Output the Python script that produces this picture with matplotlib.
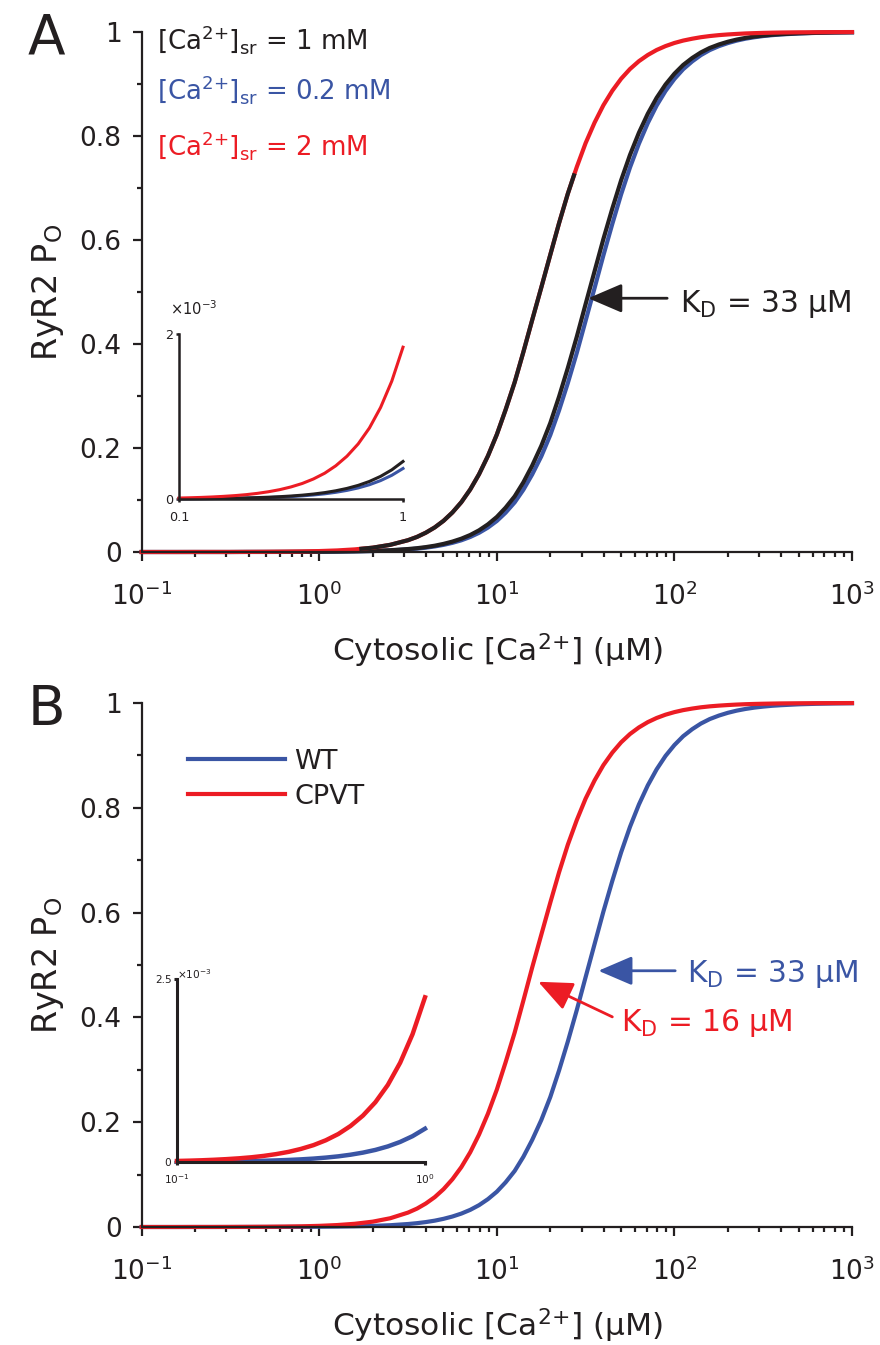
#!/usr/bin/env python
#
#   RyR2 open probability versus cytosolic calcium.
#   Panel A: three luminal (SR) calcium loads, panel B: WT vs CPVT mutant.
#   Each panel carries a small inset zooming on the 0.1 - 1 uM range.
#
#################################################

import matplotlib
matplotlib.use('Agg')
import matplotlib.pyplot as plt
from matplotlib.ticker import NullLocator

plt.rcParams['font.family'] = ['DejaVu Sans']
plt.rcParams['mathtext.fontset'] = 'dejavusans'
plt.rcParams['axes.unicode_minus'] = False

##############################
# Data
##############################

# Cytosolic [Ca2+] in uM (finer steps through the rising part)
ca_cyto = [0.1, 0.126, 0.158, 0.2, 0.251, 0.316, 0.398, 0.501, 0.631, 0.794,
           1.0, 1.26, 1.58, 2.0, 2.51,
           3.16, 3.55, 3.98, 4.47, 5.01, 5.62, 6.31, 7.08, 7.94, 8.91,
           10.0, 11.2, 12.6, 14.1, 15.8, 17.8, 20.0, 22.4, 25.1, 28.2,
           31.6, 35.5, 39.8, 44.7, 50.1, 56.2, 63.1, 70.8, 79.4, 89.1,
           100, 112, 126, 141, 158, 178, 200, 224, 251, 282,
           316, 355, 398, 501, 631, 794, 1000]

# [Ca2+]sr = 1 mM (KD = 33 uM), also the WT curve of panel B
po_sr_1mM = [0.0, 0.0, 0.0, 0.0, 0.0, 0.0, 0.0001, 0.0001, 0.0002, 0.0003,
             0.0005, 0.0008, 0.0013, 0.0021, 0.0034,
             0.0057, 0.0073, 0.0094, 0.0121, 0.0156, 0.0200, 0.0256, 0.0327, 0.0417, 0.0532,
             0.0674, 0.0852, 0.1070, 0.1339, 0.1659, 0.2042, 0.2481, 0.2987, 0.3539, 0.4141,
             0.4766, 0.5398, 0.6018, 0.6606, 0.7149, 0.7636, 0.8063, 0.8428, 0.8734, 0.8990,
             0.9198, 0.9366, 0.9501, 0.9608, 0.9693, 0.9760, 0.9813, 0.9854, 0.9886, 0.9912,
             0.9931, 0.9947, 0.9958, 0.9975, 0.9985, 0.9991, 0.9995]

# [Ca2+]sr = 0.2 mM
po_sr_02mM = [0.0, 0.0, 0.0, 0.0, 0.0, 0.0, 0.0001, 0.0001, 0.0001, 0.0002,
              0.0004, 0.0007, 0.0011, 0.0018, 0.0030,
              0.0050, 0.0065, 0.0083, 0.0107, 0.0137, 0.0176, 0.0225, 0.0289, 0.0369, 0.0470,
              0.0597, 0.0756, 0.0954, 0.1196, 0.1489, 0.1840, 0.2250, 0.2723, 0.3248, 0.3830,
              0.4444, 0.5075, 0.5703, 0.6310, 0.6878, 0.7394, 0.7852, 0.8248, 0.8585, 0.8866,
              0.9097, 0.9284, 0.9435, 0.9556, 0.9652, 0.9728, 0.9787, 0.9834, 0.9871, 0.9899,
              0.9922, 0.9939, 0.9953, 0.9971, 0.9983, 0.9990, 0.9994]

# [Ca2+]sr = 2 mM
po_sr_2mM = [0.0, 0.0, 0.0, 0.0001, 0.0001, 0.0001, 0.0002, 0.0004, 0.0007, 0.0011,
             0.0018, 0.0030, 0.0050, 0.0083, 0.0138,
             0.0227, 0.0290, 0.0371, 0.0473, 0.0600, 0.0760, 0.0958, 0.1202, 0.1496, 0.1848,
             0.2260, 0.2734, 0.3264, 0.3844, 0.4457, 0.5089, 0.5717, 0.6323, 0.6890, 0.7405,
             0.7862, 0.8257, 0.8591, 0.8871, 0.9101, 0.9288, 0.9439, 0.9558, 0.9654, 0.9729,
             0.9789, 0.9835, 0.9871, 0.9900, 0.9922, 0.9940, 0.9953, 0.9963, 0.9972, 0.9978,
             0.9983, 0.9987, 0.9990, 0.9994, 0.9996, 0.9998, 0.9999]

# black stretch drawn over the 2 mM curve in panel A
overlay_ca = [1.68, 2.0, 2.51, 3.16, 3.55, 3.98, 4.47, 5.01, 5.62, 6.31, 7.08, 7.94,
              8.91, 10.0, 11.2, 12.6, 14.1, 15.8, 17.8, 20.0, 22.4, 25.1, 27.4]
overlay_po = [0.0058, 0.0083, 0.0138, 0.0227, 0.0290, 0.0371, 0.0473, 0.0600, 0.0760,
              0.0958, 0.1202, 0.1496, 0.1848, 0.2260, 0.2734, 0.3264, 0.3844, 0.4457,
              0.5089, 0.5717, 0.6323, 0.6890, 0.7280]

# panel B
po_wt = po_sr_1mM
po_cpvt = [0.0, 0.0, 0.0, 0.0001, 0.0001, 0.0002, 0.0003, 0.0005, 0.0008, 0.0013,
           0.0022, 0.0037, 0.0061, 0.0102, 0.0167,
           0.0275, 0.0351, 0.0448, 0.0570, 0.0722, 0.0911, 0.1143, 0.1426, 0.1765, 0.2163,
           0.2623, 0.3142, 0.3711, 0.4319, 0.4948, 0.5579, 0.6191, 0.6768, 0.7296, 0.7766,
           0.8174, 0.8522, 0.8814, 0.9054, 0.9250, 0.9408, 0.9534, 0.9635, 0.9714, 0.9777,
           0.9826, 0.9864, 0.9894, 0.9918, 0.9936, 0.9950, 0.9961, 0.9970, 0.9977, 0.9982,
           0.9986, 0.9989, 0.9992, 0.9995, 0.9997, 0.9998, 0.9999]

# insets: 0.1 - 1 uM, Po in units of 1e-3
inset_ca = [0.1, 0.112, 0.126, 0.141, 0.158, 0.178, 0.2, 0.224, 0.251, 0.282, 0.316,
            0.355, 0.398, 0.447, 0.501, 0.562, 0.631, 0.708, 0.794, 0.891, 1.0]
inset_1mM = [0.0029, 0.0037, 0.0048, 0.0061, 0.0079, 0.0102, 0.0131, 0.0169, 0.0218, 0.0281,
             0.0361, 0.0465, 0.0600, 0.0773, 0.0996, 0.1282, 0.1652, 0.2128, 0.2742, 0.3532,
             0.455]
inset_02mM = [0.0023, 0.0030, 0.0039, 0.0050, 0.0064, 0.0083, 0.0107, 0.0137, 0.0177, 0.0228,
              0.0294, 0.0379, 0.0488, 0.0628, 0.0810, 0.1043, 0.1343, 0.1730, 0.2230, 0.2872,
              0.37]
inset_2mM = [0.0116, 0.0150, 0.0193, 0.0248, 0.0320, 0.0412, 0.0531, 0.0684, 0.0881, 0.1135,
             0.1462, 0.1882, 0.2425, 0.3124, 0.4026, 0.5185, 0.6681, 0.8606, 1.1088, 1.4282,
             1.84]
inset_wt = inset_1mM
inset_cpvt = [0.0142, 0.0183, 0.0236, 0.0304, 0.0391, 0.0504, 0.0649, 0.0836, 0.1077, 0.1387,
              0.1787, 0.2302, 0.2966, 0.3821, 0.4923, 0.6341, 0.8170, 1.0523, 1.3559, 1.7465,
              2.25]

y_ticks = [0, 0.2, 0.4, 0.6, 0.8, 1.0]
y_tick_labels = ['0', '0.2', '0.4', '0.6', '0.8', '1']
y_minor = [0.1, 0.3, 0.5, 0.7, 0.9]

sr_labels = [r'[Ca$^{2\!+}\!$]$_{\rm sr}$ = 1 mM', r'[Ca$^{2\!+}\!$]$_{\rm sr}$ = 0.2 mM',
             r'[Ca$^{2\!+}\!$]$_{\rm sr}$ = 2 mM']

BLACK = '#231F20'
BLUE = '#3A55A4'
RED = '#EC1C24'

################################
# Helpers
################################

def style_main(ax):
    """ Log x axis, 0-1 y axis, MATLAB-like outward ticks """
    ax.set_xscale('log')
    ax.set_xlim(0.1, 1000)
    ax.set_ylim(0, 1)
    ax.set_yticks(y_ticks, labels=y_tick_labels)
    ax.set_yticks(y_minor, minor=True)
    for side in ['top', 'right']:
        ax.spines[side].set_visible(False)
    for side in ['left', 'bottom']:
        ax.spines[side].set_linewidth(1.6)
        ax.spines[side].set_color(BLACK)
    ax.tick_params(which='both', direction='out', color=BLACK, width=1.6,
                   labelcolor=BLACK, labelsize=19)
    ax.tick_params(which='major', length=6.5)
    ax.tick_params(which='minor', length=3.6)
    ax.tick_params(axis='x', which='both', pad=15.5)
    ax.tick_params(axis='y', which='both', pad=8)
    ax.set_xlabel('Cytosolic [Ca$^{2\\!+}\\!$] (μM)', fontsize=22.5, color=BLACK, labelpad=15)
    ax.set_ylabel(r'RyR2 P$_{\rm O}$', fontsize=24, color=BLACK, labelpad=10)
    ax.patch.set_alpha(0)


def style_inset(ax, ymax, xlabels, ylabels, fsize, lw, xpad, exp_pos, exp_size):
    ax.set_xscale('log')
    ax.set_xlim(0.1, 1)
    ax.set_ylim(0, ymax)
    ax.set_xticks([0.1, 1], labels=xlabels)
    ax.xaxis.set_minor_locator(NullLocator())
    ax.set_yticks([0, ymax], labels=ylabels)
    for side in ['top', 'right']:
        ax.spines[side].set_visible(False)
    for side in ['left', 'bottom']:
        ax.spines[side].set_linewidth(lw)
        ax.spines[side].set_color(BLACK)
    ax.tick_params(direction='out', length=2.5, width=lw, color=BLACK,
                   labelsize=fsize, pad=1.5, labelcolor=BLACK)
    ax.tick_params(axis='x', pad=xpad)
    ax.patch.set_alpha(0)
    ax.text(exp_pos[0], exp_pos[1], r'$\times$10$^{-3}$', transform=ax.transAxes,
            fontsize=exp_size, va='top', ha='left', color=BLACK)


def arrow(ax, tip, tail, color):
    ax.annotate('', xy=tip, xytext=tail,
                arrowprops=dict(arrowstyle='-|>,head_length=21,head_width=9',
                                mutation_scale=1, color=color, lw=2,
                                shrinkA=0, shrinkB=0))

################################
# Figure
################################

if __name__ == '__main__':
    W, H = 880.0, 1345.0
    fig = plt.figure(figsize=(W / 100, H / 100), dpi=100)

    # ---- panel A
    axA = fig.add_axes([141.7 / W, 1 - 552 / H, 710.3 / W, 520 / H])
    style_main(axA)
    axA.plot(ca_cyto, po_sr_02mM, color=BLUE, lw=3, clip_on=False)
    axA.plot(ca_cyto, po_sr_1mM, color=BLACK, lw=3, clip_on=False)
    axA.plot(ca_cyto, po_sr_2mM, color=RED, lw=3, clip_on=False)
    axA.plot(overlay_ca, overlay_po, color=BLACK, lw=3, clip_on=False,
             solid_capstyle='butt')

    for lab, col, yb in zip(sr_labels, [BLACK, BLUE, RED], [0.9667, 0.8706, 0.762]):
        axA.text(0.0215, yb, lab, transform=axA.transAxes, fontsize=18.7,
                 color=col, va='baseline', ha='left')

    arrow(axA, (32.7, 0.488), (91, 0.488), BLACK)
    axA.text(0.758, 0.4615, r'K$_{\rm D}$ = 33 μM', transform=axA.transAxes,
             fontsize=21.4, color=BLACK, va='baseline')

    insA = fig.add_axes([179 / W, 1 - 499 / H, 224 / W, 165 / H])
    style_inset(insA, 2, ['0.1', '1'], ['0', '2'], 9.2, 1.8, 6, (-0.04, 1.21), 10.5)
    insA.plot(inset_ca, inset_02mM, color=BLUE, lw=2.2, clip_on=False)
    insA.plot(inset_ca, inset_1mM, color=BLACK, lw=2.2, clip_on=False)
    insA.plot(inset_ca, inset_2mM, color=RED, lw=2.2, clip_on=False)

    fig.text(28 / W, 1 - 53 / H, 'A', fontsize=39.5, color=BLACK, va='baseline')

    # ---- panel B
    axB = fig.add_axes([141.7 / W, 1 - 1227 / H, 710.3 / W, 524 / H])
    style_main(axB)
    axB.plot(ca_cyto, po_wt, color=BLUE, lw=3, clip_on=False, label='WT')
    axB.plot(ca_cyto, po_cpvt, color=RED, lw=3, clip_on=False, label='CPVT')
    leg = axB.legend(loc='upper left', bbox_to_anchor=(0.065, 0.913), frameon=False,
                     fontsize=19.5, handlelength=3.6, handletextpad=0.33,
                     labelspacing=0.33, borderpad=0, borderaxespad=0)
    for t in leg.get_texts():
        t.set_color(BLACK)

    arrow(axB, (37.3, 0.489), (101, 0.489), BLUE)
    axB.text(0.768, 0.4676, r'K$_{\rm D}$ = 33 μM', transform=axB.transAxes,
             fontsize=21.4, color=BLUE, va='baseline')
    arrow(axB, (17.1, 0.468), (44.7, 0.401), RED)
    axB.text(0.675, 0.374, r'K$_{\rm D}$ = 16 μM', transform=axB.transAxes,
             fontsize=21.4, color=RED, va='baseline')

    insB = fig.add_axes([177 / W, 1 - 1162 / H, 248 / W, 183 / H])
    style_inset(insB, 2.5, ['$10^{-1}$', '$10^{0}$'], ['0', '2.5'], 7.6, 2.2, 5,
                (0.0, 1.065), 7.6)
    insB.plot(inset_ca, inset_wt, color=BLUE, lw=3.2, clip_on=False)
    insB.plot(inset_ca, inset_cpvt, color=RED, lw=3.2, clip_on=False)

    fig.text(28 / W, 1 - 725 / H, 'B', fontsize=39.5, color=BLACK, va='baseline')

    fig.savefig('out.png', dpi=100)
